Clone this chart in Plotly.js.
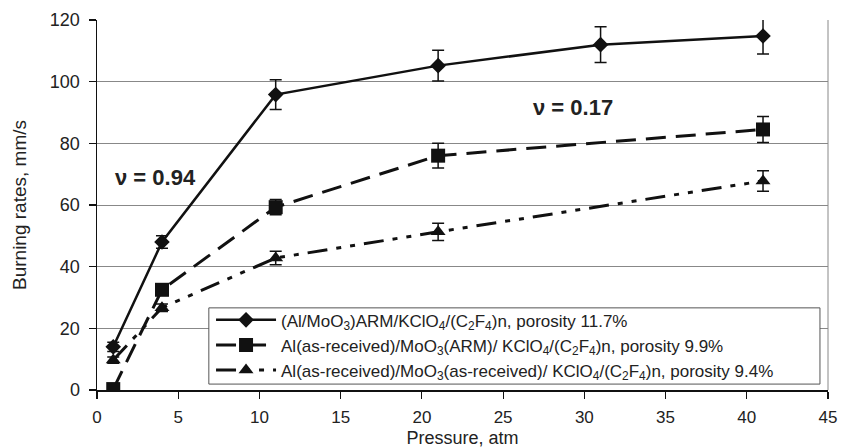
<!DOCTYPE html>
<html>
<head>
<meta charset="utf-8">
<script src="https://cdn.plot.ly/plotly-3.0.1.min.js"></script>
<style>html,body{margin:0;padding:0;background:#fff;}#chart{width:841px;height:448px;}</style>
</head>
<body>
<div id="chart"></div>
<script>
// Data
const names = [
  "(Al/MoO<sub>3</sub>)ARM/KClO<sub>4</sub>/(C<sub>2</sub>F<sub>4</sub>)n, porosity 11.7%",
  "Al(as-received)/MoO<sub>3</sub>(ARM)/ KClO<sub>4</sub>/(C<sub>2</sub>F<sub>4</sub>)n, porosity 9.9%",
  "Al(as-received)/MoO<sub>3</sub>(as-received)/ KClO<sub>4</sub>/(C<sub>2</sub>F<sub>4</sub>)n, porosity 9.4%"
];
const p1 = [1, 4, 11, 21, 31, 41];
const r1 = [14, 48, 95.8, 105.2, 112, 114.8];
const e1 = [1.5, 2, 4.8, 5, 5.8, 5.8];
const p2 = [1, 4, 11, 21, 41];
const r2 = [0.3, 32.5, 59.3, 76, 84.5];
const e2 = [0.5, 1.5, 2.5, 4, 4.2];
const p3 = [1, 4, 11, 21, 41];
const r3 = [9.7, 26.7, 42.8, 51.3, 67.8];
const e3 = [1, 1.2, 2.2, 2.8, 3.3];
const xTicks = [0, 5, 10, 15, 20, 25, 30, 35, 40, 45];
const yTicks = [0, 20, 40, 60, 80, 100, 120];
const notes = [
  {x: 3.6, y: 69, text: "ν = 0.94"},
  {x: 29.3, y: 91.5, text: "ν = 0.17"}
];

function errBar(arr) {
  return {type: 'data', array: arr, visible: true, color: '#111', thickness: 1.5, width: 6};
}
const traces = [
  {x: p1, y: r1, name: names[0], mode: 'lines+markers', type: 'scatter',
   line: {color: '#111', width: 2.5, dash: 'solid'},
   marker: {symbol: 'diamond', size: 12, color: '#111'},
   error_y: errBar(e1)},
  {x: p2, y: r2, name: names[1], mode: 'lines+markers', type: 'scatter',
   line: {color: '#111', width: 3, dash: '20px,10px'},
   marker: {symbol: 'square', size: 14, color: '#111'},
   error_y: errBar(e2)},
  {x: p3, y: r3, name: names[2], mode: 'lines+markers', type: 'scatter',
   line: {color: '#111', width: 3, dash: '20px,9px,5px,9px,5px,9px'},
   marker: {symbol: 'triangle-up', size: 13, color: '#111'},
   error_y: errBar(e3)}
];

const layout = {
  width: 841, height: 448,
  margin: {l: 97, r: 13, t: 20, b: 58},
  paper_bgcolor: '#fff', plot_bgcolor: '#fff',
  font: {family: 'Liberation Sans, Arial, sans-serif', size: 18, color: '#222'},
  showlegend: true,
  legend: {
    x: 0.156, y: 0.237, xanchor: 'left', yanchor: 'top',
    bgcolor: 'rgba(0,0,0,0)', borderwidth: 0,
    font: {size: 17, color: '#222'},
    tracegroupgap: 0, itemwidth: 60
  },
  xaxis: {
    range: [0, 45], tickvals: xTicks, ticktext: xTicks.map(String),
    showgrid: false, zeroline: false,
    showline: true, linecolor: '#111', linewidth: 1.5,
    ticks: 'outside', ticklen: 7, tickcolor: '#111', tickwidth: 1.2,
    ticklabelstandoff: 4,
    tickfont: {size: 17},
    title: {text: 'Pressure, atm', font: {size: 18}, standoff: 5}
  },
  yaxis: {
    range: [0, 120], tickvals: yTicks, ticktext: yTicks.map(String),
    showgrid: true, gridcolor: '#888', gridwidth: 1, zeroline: false,
    showline: true, linecolor: '#111', linewidth: 1.5,
    ticks: 'outside', ticklen: 7, tickcolor: '#111', tickwidth: 1.2,
    ticklabelstandoff: 5,
    tickfont: {size: 18},
    title: {text: 'Burning rates, mm/s', font: {size: 19}, standoff: 18}
  },
  shapes: [
    {type: 'line', xref: 'paper', yref: 'paper', x0: 1, x1: 1, y0: 0, y1: 1,
     line: {color: '#888', width: 1}},
    {type: 'rect', xref: 'paper', yref: 'paper', x0: 0.153, x1: 0.989, y0: 0.016, y1: 0.222,
     fillcolor: '#fff', line: {color: '#555', width: 1}, layer: 'above'}
  ],
  annotations: notes.map(n => ({
    x: n.x, y: n.y, xref: 'x', yref: 'y', text: '<b>' + n.text + '</b>',
    showarrow: false, font: {size: 22, color: '#222', family: 'Liberation Sans, Arial, sans-serif'}
  }))
};

Plotly.newPlot('chart', traces, layout, {displayModeBar: false, staticPlot: true});
</script>
</body>
</html>
